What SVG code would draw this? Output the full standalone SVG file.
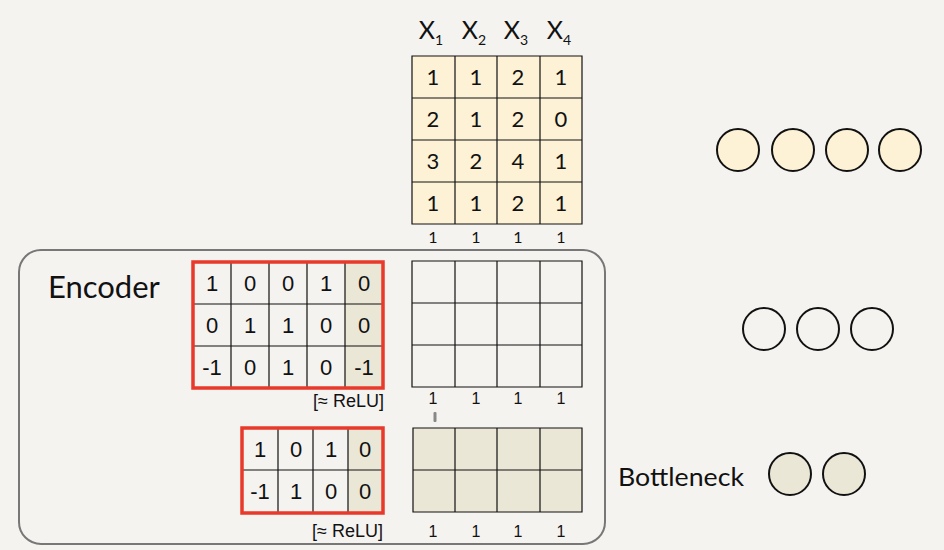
<svg xmlns="http://www.w3.org/2000/svg" width="944" height="550" viewBox="0 0 944 550">
<style>
.num{font-family:Lato,"Open Sans",sans-serif;font-size:22px;fill:#111;text-anchor:middle}
.hnum{font-family:"Liberation Sans",Arial,sans-serif;font-size:22px;fill:#111;text-anchor:middle}
.small{font-family:Lato,"Open Sans",sans-serif;font-size:16px;fill:#111;text-anchor:middle}
.snum{font-family:"Liberation Sans",Arial,sans-serif;font-size:16px;fill:#111;text-anchor:middle}
.relu{font-family:"Liberation Sans",Arial,sans-serif;font-size:18px;fill:#111;text-anchor:end}
.hdr{font-family:Lato,"Open Sans",sans-serif;font-size:25px;fill:#111;text-anchor:middle}
.grid{fill:none;stroke:#111;stroke-width:1.2}
.red{fill:none;stroke:#e8392a;stroke-width:3.5}
.cream{fill:#fdf2d6}
.beige{fill:#ebe7d7}
.circ{stroke:#111;stroke-width:2}
</style>
<rect width="944" height="550" fill="#f5f3f0"/>

<g id="input-matrix">
  <text x="431" y="39" class="hdr">X<tspan font-size="14" dy="6">1</tspan></text>
  <text x="474" y="39" class="hdr">X<tspan font-size="14" dy="6">2</tspan></text>
  <text x="516" y="39" class="hdr">X<tspan font-size="14" dy="6">3</tspan></text>
  <text x="559" y="39" class="hdr">X<tspan font-size="14" dy="6">4</tspan></text>
  <rect x="412" y="56" width="170" height="168" class="cream"/>
  <path class="grid" d="M412,56H582V224H412Z M455,56V224 M497,56V224 M540,56V224 M412,98H582 M412,140H582 M412,182H582"/>
  <g class="num">
    <text x="433" y="85">1</text><text x="476" y="85">1</text><text x="518" y="85">2</text><text x="561" y="85">1</text>
    <text x="433" y="127">2</text><text x="476" y="127">1</text><text x="518" y="127">2</text><text x="561" y="127">0</text>
    <text x="433" y="169">3</text><text x="476" y="169">2</text><text x="518" y="169">4</text><text x="561" y="169">1</text>
    <text x="433" y="211">1</text><text x="476" y="211">1</text><text x="518" y="211">2</text><text x="561" y="211">1</text>
  </g>
  <g class="small">
    <text x="433" y="243">1</text><text x="476" y="243">1</text><text x="518" y="243">1</text><text x="561" y="243">1</text>
  </g>
</g>

<g id="encoder-box">
  <rect x="19" y="250" width="586" height="294" rx="22" ry="22" fill="none" stroke="#777" stroke-width="2"/>
  <text x="48" y="298" font-family="Lato,'Open Sans',sans-serif" font-size="31" fill="#111">Encoder</text>
</g>

<g id="weights-1">
  <rect x="345" y="262" width="38" height="126" class="beige"/>
  <path class="grid" d="M231,262V388 M269,262V388 M307,262V388 M345,262V388 M194,304H383 M194,346H383"/>
  <rect x="193" y="262" width="190" height="126" class="red"/>
  <g class="hnum">
    <text x="212" y="291">1</text><text x="250" y="291">0</text><text x="288" y="291">0</text><text x="326" y="291">1</text><text x="364" y="291">0</text>
    <text x="212" y="333">0</text><text x="250" y="333">1</text><text x="288" y="333">1</text><text x="326" y="333">0</text><text x="364" y="333">0</text>
    <text x="212" y="375">-1</text><text x="250" y="375">0</text><text x="288" y="375">1</text><text x="326" y="375">0</text><text x="364" y="375">-1</text>
  </g>
  <text x="384" y="407" class="relu">[≈ ReLU]</text>
</g>

<g id="hidden-1">
  <path class="grid" d="M412,261H582V387H412Z M455,261V387 M497,261V387 M540,261V387 M412,303H582 M412,345H582"/>
  <g class="snum">
    <text x="433" y="404">1</text><text x="476" y="404">1</text><text x="518" y="404">1</text><text x="561" y="404">1</text>
  </g>
  <rect x="433.5" y="412" width="3" height="10" rx="1" fill="#888"/>
</g>

<g id="weights-2">
  <rect x="348" y="428" width="35" height="85" class="beige"/>
  <path class="grid" d="M278,428V513 M313,428V513 M348,428V513 M243,470H383"/>
  <rect x="242" y="428" width="141" height="85" class="red"/>
  <g class="hnum">
    <text x="260" y="457">1</text><text x="296" y="457">0</text><text x="331" y="457">1</text><text x="365" y="457">0</text>
    <text x="260" y="499">-1</text><text x="296" y="499">1</text><text x="331" y="499">0</text><text x="365" y="499">0</text>
  </g>
  <text x="383" y="537" class="relu">[≈ ReLU]</text>
</g>

<g id="hidden-2">
  <rect x="413" y="428" width="169" height="84" class="beige"/>
  <path class="grid" d="M413,428H582V512H413Z M455,428V512 M497,428V512 M540,428V512 M413,470H582"/>
  <g class="snum">
    <text x="433" y="537">1</text><text x="476" y="537">1</text><text x="518" y="537">1</text><text x="561" y="537">1</text>
  </g>
</g>

<g id="input-neurons">
  <circle cx="738" cy="150" r="21" class="circ cream"/>
  <circle cx="793" cy="150" r="21" class="circ cream"/>
  <circle cx="847" cy="150" r="21" class="circ cream"/>
  <circle cx="900" cy="150" r="21" class="circ cream"/>
</g>

<g id="hidden-neurons">
  <circle cx="764" cy="329" r="21" class="circ" fill="none"/>
  <circle cx="818" cy="329" r="21" class="circ" fill="none"/>
  <circle cx="872" cy="329" r="21" class="circ" fill="none"/>
</g>

<g id="bottleneck">
  <text x="618" y="486" font-family="Lato,'Open Sans',sans-serif" font-size="25" fill="#111" textLength="126" lengthAdjust="spacingAndGlyphs">Bottleneck</text>
  <circle cx="790" cy="474" r="21" class="circ beige"/>
  <circle cx="844" cy="474" r="21" class="circ beige"/>
</g>

<g id="connectors"></g>
</svg>
